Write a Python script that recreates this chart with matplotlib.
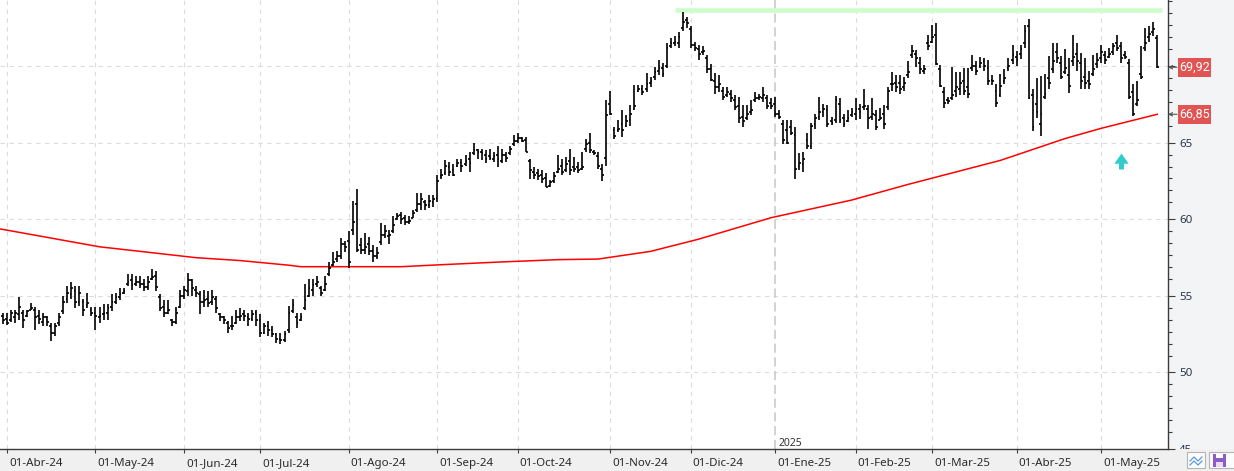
import numpy as np
import pandas as pd
import matplotlib
matplotlib.use('Agg')
import matplotlib.pyplot as plt
from matplotlib.collections import LineCollection
from matplotlib.patches import Rectangle
from matplotlib.lines import Line2D
from matplotlib.path import Path
from matplotlib.transforms import Bbox, TransformedBbox

plt.rcParams['font.family'] = ['Noto Sans', 'DejaVu Sans']

# trading days shown (exchange holidays removed)
holidays = ['2024-03-29', '2024-05-27', '2024-06-19', '2024-07-04', '2024-09-02',
            '2024-11-28', '2024-12-25', '2025-01-01', '2025-01-09', '2025-01-20',
            '2025-02-17', '2025-04-18']
dates = pd.bdate_range('2024-03-28', '2025-05-21', freq='C', holidays=holidays)
month_abbr = {1: 'Ene', 2: 'Feb', 3: 'Mar', 4: 'Abr', 5: 'May', 6: 'Jun',
              7: 'Jul', 8: 'Ago', 9: 'Sep', 10: 'Oct', 11: 'Nov', 12: 'Dic'}

# daily OHLC
opens = [53.7, 53.5, 53.4, 53.6, 53.8, 53.9, 53.7, 54.1, 54.1, 53.7,
         53.3, 53.6, 53.0, 52.6, 53.2, 54.0, 54.8, 55.1, 55.3, 54.6,
         54.6, 54.4, 54.1, 53.9, 53.6, 53.8, 53.9, 54.3, 54.6, 54.9,
         55.2, 55.8, 56.0, 55.8, 55.9, 55.8, 55.6, 56.1, 56.3, 54.9,
         54.3, 53.9, 53.4, 53.3, 54.3, 55.0, 55.3, 56.0, 55.4, 55.1,
         54.6, 54.8, 54.6, 54.8, 53.8, 53.6, 53.2, 53.0, 53.2, 53.6,
         53.8, 53.6, 53.5, 53.9, 53.4, 52.6, 53.0, 52.8, 52.5, 52.2,
         52.1, 52.8, 54.0, 53.6, 53.4, 54.2, 55.0, 55.4, 55.8, 55.5,
         55.4, 56.4, 57.0, 57.4, 57.6, 58.4, 58.6, 59.3, 61.0, 58.3,
         58.0, 58.4, 57.9, 57.6, 58.5, 59.0, 58.9, 59.2, 60.0, 60.3,
         60.1, 59.8, 60.1, 60.6, 61.0, 61.1, 60.9, 61.1, 61.4, 62.8,
         63.0, 63.4, 63.2, 63.5, 63.7, 63.6, 63.9, 64.3, 64.5, 64.4,
         64.2, 64.1, 63.9, 64.2, 63.8, 64.2, 64.3, 64.9, 65.1, 65.3,
         65.2, 63.8, 63.1, 63.0, 62.9, 62.7, 62.2, 62.5, 63.1, 63.5,
         63.2, 63.8, 63.4, 63.4, 63.3, 64.6, 65.0, 64.4, 64.1, 63.3,
         64.0, 67.5, 65.8, 65.8, 66.2, 66.1, 66.5, 67.2, 68.4, 68.5,
         68.5, 68.9, 69.3, 69.7, 69.9, 70.0, 71.3, 71.5, 71.5, 72.5,
         73.0, 72.4, 71.4, 71.1, 70.9, 70.5, 69.8, 69.0, 68.6, 68.4,
         68.1, 68.2, 67.8, 67.4, 66.7, 66.6, 67.0, 67.8, 67.9, 67.9,
         67.9, 67.6, 67.5, 66.9, 66.2, 65.8, 66.0, 65.5, 63.5, 63.6,
         65.2, 64.8, 66.2, 66.7, 67.0, 67.1, 66.4, 66.5, 67.5, 66.6,
         66.4, 66.8, 66.9, 67.2, 67.3, 67.2, 66.7, 66.8, 66.5, 66.9,
         67.3, 68.8, 68.9, 68.9, 68.6, 69.4, 70.7, 70.8, 70.2, 69.7,
         71.5, 71.6, 72.0, 69.8, 68.3, 67.8, 67.9, 68.4, 68.5, 69.0,
         68.6, 69.9, 70.0, 70.0, 70.3, 69.9, 69.1, 68.4, 68.1, 69.0,
         69.9, 70.4, 70.6, 70.8, 71.5, 72.6, 68.1, 67.5, 66.2, 68.0,
         69.2, 69.8, 70.9, 70.2, 69.6, 69.4, 70.3, 70.8, 70.2, 69.3,
         69.0, 69.5, 70.1, 70.5, 70.7, 70.6, 70.9, 71.5, 71.3, 70.7,
         70.2, 68.3, 67.5, 69.5, 71.2, 71.9, 72.2, 71.8]
highs = [53.9, 53.85, 54.1, 54.1, 54.95, 54.1, 54.1, 54.5, 54.25, 54.1,
         53.9, 53.7, 53.25, 53.25, 53.9, 55.0, 55.65, 55.9, 55.65, 55.65,
         54.8, 55.2, 54.25, 54.25, 54.25, 54.45, 54.45, 55.1, 55.2, 55.5,
         55.5, 56.4, 56.4, 56.3, 56.3, 56.1, 56.3, 56.75, 56.6, 55.1,
         54.7, 54.7, 53.5, 54.25, 55.4, 55.65, 56.5, 56.1, 55.65, 55.3,
         55.4, 55.3, 55.4, 55.0, 53.9, 53.7, 53.35, 53.7, 54.1, 54.2,
         54.1, 53.9, 54.1, 54.1, 53.8, 53.25, 53.35, 53.0, 52.6, 52.6,
         52.7, 54.35, 54.8, 53.9, 53.9, 55.8, 56.1, 56.1, 56.3, 55.65,
         56.3, 57.2, 57.85, 57.95, 58.75, 58.6, 59.2, 61.2, 61.95, 58.75,
         59.1, 58.85, 58.3, 58.2, 59.75, 59.65, 59.3, 60.2, 60.4, 60.5,
         60.3, 60.2, 60.6, 61.7, 61.7, 61.25, 61.6, 61.6, 62.9, 63.3,
         63.85, 63.75, 63.6, 63.95, 63.95, 64.2, 64.4, 64.95, 64.6, 64.6,
         64.5, 64.6, 64.4, 64.8, 64.6, 64.4, 64.8, 65.5, 65.65, 65.35,
         65.35, 63.95, 63.4, 63.3, 63.2, 63.0, 62.55, 63.1, 64.2, 63.95,
         64.05, 64.6, 64.05, 63.75, 64.4, 65.25, 65.6, 64.5, 64.4, 63.6,
         67.8, 68.4, 66.0, 66.45, 67.1, 66.8, 67.45, 68.75, 68.75, 68.75,
         69.55, 69.3, 69.95, 70.4, 70.2, 71.5, 71.85, 71.95, 72.2, 73.5,
         73.2, 72.6, 71.6, 71.4, 71.3, 70.75, 70.1, 69.55, 69.4, 68.65,
         68.65, 68.45, 68.1, 68.0, 67.45, 67.45, 67.8, 68.3, 68.2, 68.65,
         68.1, 67.9, 68.0, 67.1, 66.45, 66.45, 66.45, 66.0, 64.3, 64.4,
         65.6, 66.25, 66.9, 68.0, 67.55, 67.45, 66.7, 68.05, 67.9, 66.9,
         67.1, 67.25, 67.9, 67.55, 68.5, 67.45, 67.9, 67.1, 67.25, 67.45,
         68.65, 69.6, 69.4, 69.4, 69.3, 70.3, 71.4, 71.05, 70.6, 70.05,
         72.0, 72.7, 72.8, 70.05, 68.65, 68.0, 69.95, 69.6, 69.6, 69.85,
         69.85, 70.7, 70.3, 70.6, 70.5, 70.4, 69.4, 68.85, 69.45, 69.8,
         70.55, 71.4, 70.95, 71.4, 72.7, 73.05, 68.5, 69.25, 69.35, 69.45,
         70.65, 71.5, 71.5, 70.65, 71.1, 70.55, 72.05, 71.5, 70.85, 70.55,
         69.7, 70.75, 70.85, 71.4, 70.95, 71.2, 71.5, 72.05, 71.6, 70.95,
         70.45, 68.8, 69.0, 71.3, 72.5, 72.6, 72.85, 72.05]
lows = [53.15, 53.1, 53.3, 53.2, 53.4, 52.9, 53.6, 54.05, 52.8, 53.15,
        53.0, 53.0, 52.05, 52.4, 53.0, 53.8, 54.55, 54.8, 54.2, 54.35,
        53.7, 54.2, 53.7, 52.8, 53.25, 53.4, 53.4, 54.0, 54.45, 54.7,
        55.1, 55.65, 55.4, 55.65, 55.5, 55.3, 55.4, 56.0, 55.3, 54.0,
        53.6, 53.8, 53.0, 53.15, 54.2, 54.8, 55.0, 55.0, 54.9, 53.8,
        54.3, 54.3, 54.4, 53.9, 53.35, 53.15, 52.6, 52.8, 53.15, 53.35,
        53.35, 53.0, 53.35, 53.0, 52.3, 52.5, 52.4, 52.3, 51.9, 51.85,
        52.0, 52.6, 53.9, 52.9, 53.35, 54.1, 54.9, 55.0, 55.55, 55.0,
        55.3, 56.3, 56.95, 57.2, 57.4, 57.85, 56.8, 59.0, 57.85, 57.75,
        57.75, 57.65, 57.2, 57.4, 58.3, 58.75, 58.4, 59.1, 59.95, 59.7,
        59.6, 59.7, 60.05, 60.5, 60.6, 60.6, 60.7, 60.8, 61.15, 62.65,
        62.9, 62.8, 62.8, 63.4, 63.1, 63.5, 63.1, 64.2, 63.95, 63.85,
        63.65, 63.85, 63.75, 63.4, 63.65, 63.75, 64.2, 64.8, 64.95, 65.05,
        64.4, 62.65, 62.65, 62.55, 62.35, 62.1, 62.1, 62.35, 63.0, 62.9,
        63.1, 62.9, 63.1, 63.0, 63.2, 64.4, 64.3, 64.2, 63.3, 62.5,
        63.5, 66.8, 65.25, 65.7, 65.35, 66.0, 66.1, 67.1, 68.3, 68.1,
        68.3, 68.65, 69.1, 69.4, 69.3, 69.85, 71.2, 71.3, 71.2, 72.3,
        72.5, 71.2, 71.0, 70.4, 70.75, 69.55, 69.0, 68.2, 68.3, 67.8,
        68.0, 67.65, 67.1, 66.25, 66.0, 66.45, 66.8, 67.65, 67.8, 67.65,
        67.2, 67.2, 66.7, 66.55, 64.9, 64.9, 65.5, 62.6, 63.2, 63.1,
        64.6, 64.6, 65.9, 66.45, 66.7, 66.0, 66.15, 66.25, 66.25, 66.0,
        66.35, 66.7, 66.45, 66.55, 67.1, 65.9, 66.45, 65.8, 66.45, 65.9,
        67.1, 68.4, 68.3, 68.2, 68.4, 69.2, 70.5, 69.95, 69.5, 69.5,
        71.05, 71.5, 70.05, 68.6, 67.25, 67.55, 67.75, 68.0, 68.1, 68.1,
        67.9, 69.7, 69.4, 69.85, 69.7, 68.75, 68.75, 67.35, 67.95, 68.8,
        69.7, 70.1, 70.0, 70.45, 71.2, 67.85, 65.75, 66.6, 65.45, 67.85,
        68.5, 69.55, 70.2, 69.15, 69.45, 68.25, 70.0, 69.7, 68.5, 68.5,
        68.5, 69.35, 69.9, 70.2, 70.1, 70.55, 70.75, 70.95, 70.2, 70.45,
        67.85, 66.75, 67.4, 69.15, 70.95, 71.6, 71.95, 69.9]
closes = [53.4, 53.2, 53.9, 53.9, 54.3, 53.4, 54.0, 54.2, 53.6, 53.5,
          53.6, 53.3, 52.6, 53.0, 53.6, 54.6, 55.2, 55.5, 54.6, 55.2,
          54.1, 54.5, 53.9, 53.7, 53.7, 53.9, 54.2, 54.6, 54.9, 55.1,
          55.3, 55.9, 55.7, 55.9, 55.8, 55.6, 55.9, 56.2, 55.6, 54.2,
          53.9, 54.1, 53.3, 53.9, 55.0, 55.4, 56.0, 55.5, 55.2, 54.6,
          54.7, 54.5, 54.9, 54.2, 53.6, 53.4, 52.9, 53.0, 53.6, 53.7,
          53.7, 53.5, 53.8, 53.4, 52.6, 53.0, 52.8, 52.5, 52.2, 52.1,
          52.5, 53.9, 54.4, 53.2, 53.6, 54.7, 55.5, 55.7, 55.9, 55.2,
          55.8, 56.8, 57.2, 57.6, 58.4, 58.2, 57.2, 59.8, 58.0, 58.0,
          58.2, 57.9, 57.6, 57.8, 59.0, 59.2, 59.0, 59.6, 60.2, 60.0,
          59.8, 59.9, 60.4, 61.0, 61.3, 60.9, 61.2, 61.3, 62.5, 62.9,
          63.5, 63.1, 62.9, 63.7, 63.5, 63.8, 63.7, 64.5, 64.4, 64.3,
          63.9, 64.0, 64.1, 63.9, 64.2, 64.0, 64.6, 65.1, 65.3, 65.1,
          64.4, 63.2, 62.9, 62.8, 62.6, 62.1, 62.4, 62.8, 63.3, 63.1,
          63.6, 63.2, 63.3, 63.2, 63.4, 64.9, 64.5, 64.3, 63.5, 62.9,
          66.8, 66.9, 65.4, 65.9, 65.8, 66.4, 66.9, 67.4, 68.5, 68.3,
          68.8, 69.0, 69.6, 69.9, 69.5, 71.2, 71.5, 71.6, 71.9, 72.9,
          72.8, 71.4, 71.2, 70.8, 71.0, 69.8, 69.1, 68.6, 68.8, 68.0,
          68.3, 67.9, 67.3, 66.6, 66.4, 66.9, 67.1, 67.9, 68.0, 68.1,
          67.4, 67.4, 66.9, 66.7, 65.2, 65.0, 65.6, 63.3, 63.7, 63.9,
          64.8, 66.1, 66.6, 67.0, 67.2, 66.2, 66.3, 67.8, 66.5, 66.2,
          66.6, 67.0, 67.2, 67.0, 67.4, 66.6, 66.9, 66.0, 66.6, 66.2,
          68.4, 68.8, 68.6, 68.5, 68.9, 69.6, 71.0, 70.5, 69.8, 69.8,
          71.3, 71.9, 70.1, 68.7, 67.6, 67.7, 68.1, 68.6, 68.9, 68.4,
          68.2, 70.0, 69.7, 70.2, 70.0, 69.0, 69.0, 67.6, 68.7, 69.2,
          70.0, 70.7, 70.4, 71.1, 72.3, 67.9, 66.0, 67.0, 66.9, 68.2,
          68.9, 70.3, 70.5, 69.3, 69.9, 68.7, 70.6, 70.3, 69.0, 68.9,
          68.8, 69.8, 70.4, 70.9, 70.4, 70.8, 71.3, 71.2, 70.5, 70.6,
          68.0, 66.9, 67.8, 69.3, 71.5, 72.1, 72.4, 69.92]

# long moving average (red), read at a few bars
ma_bar = [-1, 24, 48, 59, 71, 74, 99, 109, 123, 138, 148, 161, 173, 191,
          211, 225, 248, 264, 273, 287]
ma_val = [59.38, 58.2, 57.49, 57.3, 57.0, 56.9, 56.9, 57.03, 57.2, 57.36,
          57.4, 57.9, 58.7, 60.1, 61.25, 62.27, 63.84, 65.26, 65.93, 66.85]

# resistance (green) and signal arrow (cyan)
resist_from, resist_to, resist_level = 167, 288.2, 73.65
signal_bar, signal_level = 278, 63.8

y_major = [45, 50, 55, 60, 65, 70]
y_labels = [45, 50, 55, 60, 65]

W, H = 1234, 471
fig = plt.figure(figsize=(W / 100, H / 100), dpi=100, facecolor='#f0f0f0')
fig.add_artist(Rectangle((1168 / W, 22 / H), (W - 1168) / W, 449 / H,
                         transform=fig.transFigure, fc='#f3f4f6', ec='none', zorder=-1))
ax = fig.add_axes([0, 22 / H, 1168 / W, 449 / H])
ax.set_facecolor('white')
ax.set_xlim(-0.74, 289.66)
ax.set_ylim(45, 74.31)

for s in ['top', 'left']:
    ax.spines[s].set_visible(False)
for s in ['bottom', 'right']:
    ax.spines[s].set_color('#3c3c3c')
    ax.spines[s].set_linewidth(1.0)

# month ticks
month_pos = [i for i in range(1, len(dates)) if dates[i].month != dates[i - 1].month]
month_lab = ['01-%s-%s' % (month_abbr[dates[i].month], dates[i].strftime('%y')) for i in month_pos]
year_pos = [i for i in month_pos if dates[i].month == 1][0]

ax.yaxis.tick_right()
ax.set_yticks(y_major)
ax.set_yticklabels([])
minor = [m - k * 0.78 for m in range(50, 80, 5) for k in range(1, 6)]
ax.set_yticks([v for v in minor if 45 < v < 74.3], minor=True)
ax.tick_params(axis='y', which='major', length=5, width=0.8, color='#3c3c3c')
ax.tick_params(axis='y', which='minor', length=3, width=0.8, color='#3c3c3c')
ax.set_xticks(month_pos)
ax.set_xticklabels([])
ax.tick_params(axis='x', length=3, width=0.8, color='#3c3c3c')

# grid
for v in [50, 55, 60, 65, 70]:
    ax.axhline(v, color='#dcdcdc', lw=0.8, ls=(0, (4, 4)), zorder=0)
for p in month_pos:
    if p != year_pos:
        ax.axvline(p, color='#dcdcdc', lw=0.8, ls=(0, (4, 4)), zorder=0)
ax.axvline(year_pos, color='#c6c6c6', lw=1.1, ls=(0, (6, 3)), zorder=0)

# OHLC bars
segs = []
for i in range(len(closes)):
    segs.append([(i, lows[i]), (i, highs[i])])
    segs.append([(i - 0.45, opens[i]), (i, opens[i])])
    segs.append([(i, closes[i]), (i + 0.45, closes[i])])
ax.add_collection(LineCollection(segs, colors='black', linewidths=1.2,
                                 capstyle='butt', zorder=3))

ax.plot(ma_bar, ma_val, color='#ff0000', lw=1.1, zorder=2)
ax.plot([resist_from, resist_to], [resist_level, resist_level], color='#ccffcc',
        lw=3.4, solid_capstyle='butt', zorder=1)

arrow = Path([(0, 1.115), (1, -0.315), (0.35, -0.315), (0.35, -1.115),
              (-0.35, -1.115), (-0.35, -0.315), (-1, -0.315), (0, 1.115)])
ax.plot([signal_bar], [signal_level], marker=arrow, ms=11.5, color='#33cccc',
        mec='none', ls='none', zorder=4)

# x labels
for p, lab in zip(month_pos, month_lab):
    ax.annotate(lab, xy=(p, 0), xycoords=('data', 'axes fraction'), xytext=(2, -17),
                textcoords='offset pixels', ha='left', va='baseline', fontsize=8.3,
                color='#2b2b2b', annotation_clip=False)
ax.annotate('2025', xy=(year_pos, 0), xycoords=('data', 'axes fraction'), xytext=(3, 3),
            textcoords='offset pixels', ha='left', va='baseline', fontsize=7.5, color='#333333')

# y labels (bottom one is cut by the date strip)
clip = TransformedBbox(Bbox([[0, 22 / H], [1, 1]]), fig.transFigure)
for v in y_labels:
    t = ax.annotate(str(v), xy=(1, v), xycoords=('axes fraction', 'data'), xytext=(11, -4),
                    textcoords='offset pixels', ha='left', va='baseline', fontsize=8.3,
                    color='#2a3548', annotation_clip=False)
    t.set_clip_on(True)
    t.set_clip_box(clip)

# price tags for last close and moving average
for v in [closes[-1], ma_val[-1]]:
    ax.annotate('', xy=(1, v), xycoords=('axes fraction', 'data'), xytext=(9, 0),
                textcoords='offset pixels', annotation_clip=False,
                arrowprops=dict(arrowstyle='->', color='#555555', lw=0.8,
                                shrinkA=0, shrinkB=0, mutation_scale=6))
    yc = ax.transData.transform((0, v))[1]
    fig.add_artist(Rectangle((1178 / W, (yc - 9.5) / H), 33 / W, 19 / H,
                             transform=fig.transFigure, fc='#e25454', ec='none', zorder=2))
    fig.text(1194.5 / W, yc / H, ('%.2f' % v).replace('.', ','), ha='center', va='center',
             fontsize=9, family=['Roboto', 'DejaVu Sans'], color='white', zorder=3)

# little toolbar buttons at bottom right
def px_rect(x0, y0, x1, y1, **kw):
    fig.add_artist(Rectangle((x0 / W, 1 - y1 / H), (x1 - x0) / W, (y1 - y0) / H,
                             transform=fig.transFigure, **kw))

px_rect(1187, 452, 1205, 468, fc='#fbfbfb', ec='#b4b4b4', lw=0.8)
for dy in [0, 4]:
    fig.add_artist(Line2D([1190 / W, 1194 / W, 1198 / W, 1202 / W],
                          [1 - (461 + dy) / H, 1 - (457 + dy) / H, 1 - (461 + dy) / H, 1 - (457 + dy) / H],
                          transform=fig.transFigure, color='#5b9bd5', lw=0.9))
px_rect(1209, 452, 1240, 468, fc='#fbfbfb', ec='#b4b4b4', lw=0.8)
px_rect(1213, 454, 1226, 467, fc='#8e5ac8', ec='none')
px_rect(1216, 454, 1223, 458, fc='white', ec='none')
px_rect(1216, 462, 1223, 467, fc='#e8ddf5', ec='none')

plt.savefig('out.png', dpi=100, facecolor=fig.get_facecolor())
